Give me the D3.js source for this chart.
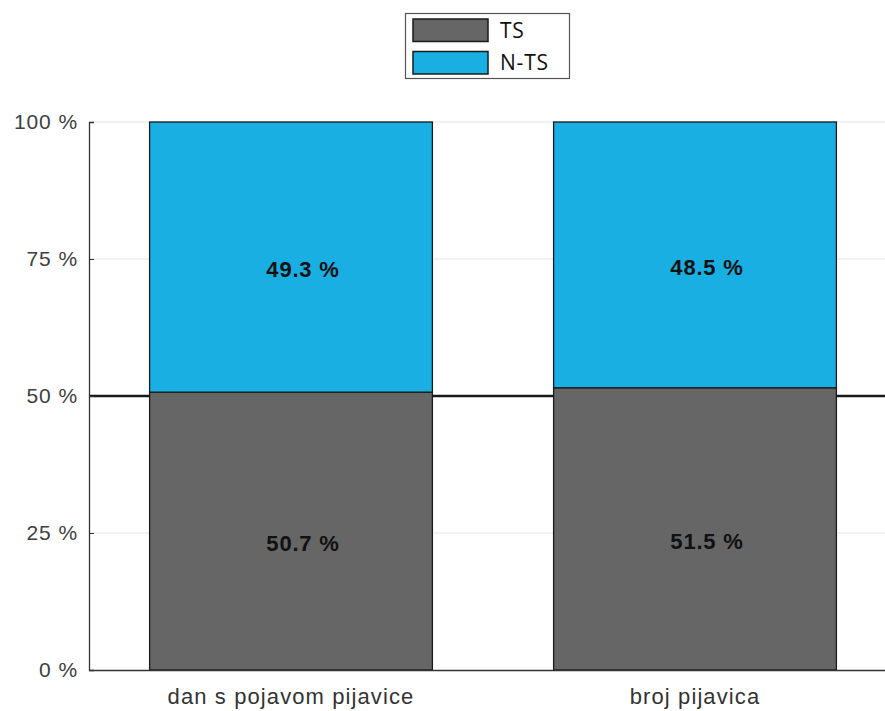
<!DOCTYPE html>
<html><head><meta charset="utf-8">
<script src="https://cdn.jsdelivr.net/npm/d3@7"></script>
<style>body{margin:0;background:#fff}svg{display:block}</style>
</head><body>
<svg id="chart" width="885" height="711"></svg>
<script>
const categories = ["dan s pojavom pijavice", "broj pijavica"];
const seriesNames = ["TS", "N-TS"];
const tsValues = [50.7, 51.5];
const ntsValues = [49.3, 48.5];
const yTicks = [0, 25, 50, 75, 100];
const colors = ["#666666", "#1AAFE3"];

(function () {
const svg = d3.select("#chart");
const pLeft = 89, pTop = 122, pBottom = 670, pRight = 897;
const x = d3.scaleBand().domain(categories).range([pLeft, pRight]).paddingInner(0.3).paddingOuter(0.15);
const y = d3.scaleLinear().domain([0, 100]).range([pBottom, pTop]);

const g = svg.append("g");
// gridlines
g.selectAll("line.grid").data(yTicks.filter(d => d > 0)).join("line")
  .attr("x1", pLeft).attr("x2", 885).attr("y1", d => y(d)).attr("y2", d => y(d))
  .attr("stroke", "#e3e3e3").attr("stroke-width", 1.2);

// 50% reference line
g.append("line").attr("x1", pLeft).attr("x2", 885).attr("y1", y(50)).attr("y2", y(50))
  .attr("stroke", "#1a1a1a").attr("stroke-width", 2.6);

// stacked data
const rows = categories.map((c, i) => ({cat: c, TS: tsValues[i], "N-TS": ntsValues[i]}));
const stack = d3.stack().keys(seriesNames)(rows);
const layer = g.selectAll("g.layer").data(stack).join("g").attr("fill", (d, i) => colors[i]);
layer.selectAll("rect").data(d => d).join("rect")
  .attr("x", d => x(d.data.cat)).attr("width", x.bandwidth())
  .attr("y", d => y(d[1])).attr("height", d => y(d[0]) - y(d[1]))
  .attr("stroke", "#1a1a1a").attr("stroke-width", 1.3);
layer.selectAll("text").data(d => d).join("text")
  .attr("x", d => x(d.data.cat) + x.bandwidth() / 2 + 12)
  .attr("y", d => (y(d[0]) + y(d[1])) / 2 + 12.5)
  .attr("dy", "0.35em").attr("text-anchor", "middle")
  .attr("font-family", "Liberation Sans, Arial, sans-serif").attr("font-weight", "bold")
  .attr("font-size", 22).attr("letter-spacing", "0.8px").attr("fill", "#111")
  .text((d, i, n) => { const key = d3.select(n[i].parentNode).datum().key; return d.data[key].toFixed(1) + " %"; });

// axes
const yAxis = d3.axisLeft(y).tickValues(yTicks).tickSize(-5).tickPadding(11).tickFormat(d => d + " %");
const ya = svg.append("g").attr("transform", `translate(${pLeft},0)`).call(yAxis);
ya.select(".domain").attr("stroke", "#333").attr("stroke-width", 1.3);
ya.selectAll(".tick line").attr("stroke", "#333");
ya.selectAll(".tick text").attr("font-family", "Liberation Sans, Arial, sans-serif").attr("font-size", 21)
  .attr("letter-spacing", "0.9px").attr("fill", "#404040");

const xAxis = d3.axisBottom(x).tickSize(0).tickPadding(18);
const xa = svg.append("g").attr("transform", `translate(0,${pBottom})`).call(xAxis);
xa.select(".domain").attr("stroke", "#333").attr("stroke-width", 1.3);
xa.selectAll(".tick text").attr("font-family", "Liberation Sans, Arial, sans-serif").attr("font-size", 22)
  .attr("letter-spacing", "1.1px").attr("fill", "#333");

// legend
const lg = svg.append("g");
lg.append("rect").attr("x", 405.5).attr("y", 13.5).attr("width", 164).attr("height", 65)
  .attr("fill", "#fff").attr("stroke", "#555").attr("stroke-width", 1.2);
seriesNames.forEach((s, i) => {
  lg.append("rect").attr("x", 413).attr("y", 19 + i * 32.5).attr("width", 75).attr("height", 22.5)
    .attr("fill", colors[i]).attr("stroke", "#1a1a1a").attr("stroke-width", 1.5);
  lg.append("text").attr("x", 500).attr("y", 30.5 + i * 32.5).attr("dy", "0.35em")
    .attr("font-family", "Open Sans, sans-serif").attr("font-size", 21).attr("letter-spacing", "0.8px")
    .attr("fill", "#111").text(s);
});
})();
</script>
</body></html>
